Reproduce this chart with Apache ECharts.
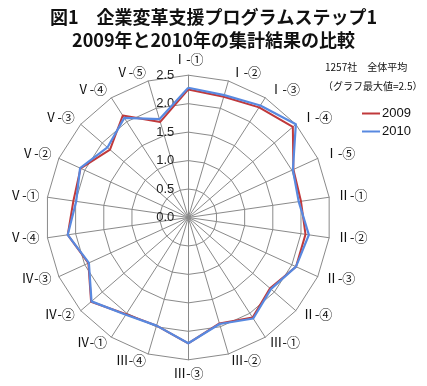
<!DOCTYPE html>
<html>
<head>
<meta charset="utf-8">
<script src="https://cdn.jsdelivr.net/npm/echarts@6/dist/echarts.min.js"></script>
<style>
html,body{margin:0;padding:0;background:#fff;}
#chart{width:427px;height:386px;}
</style>
</head>
<body>
<div id="chart"></div>
<script>
const titleLines = ['図1　企業変革支援プログラムステップ1', '2009年と2010年の集計結果の比較'];
const noteLines = ['1257社　全体平均', '（グラフ最大値=2.5）'];
const categories = ['Ⅰ-①','Ⅰ-②','Ⅰ-③','Ⅰ-④','Ⅰ-⑤','Ⅱ-①','Ⅱ-②','Ⅱ-③','Ⅱ-④','Ⅲ-①','Ⅲ-②','Ⅲ-③','Ⅲ-④','Ⅳ-①','Ⅳ-②','Ⅳ-③','Ⅴ-④','Ⅴ-①','Ⅴ-②','Ⅴ-③','Ⅴ-④','Ⅴ-⑤'];
const values2009 = [2.25,2.21,2.30,2.43,2.03,2.00,2.08,2.08,1.90,2.09,1.94,2.21,1.98,2.02,2.26,1.93,2.14,2.04,2.08,1.82,2.13,1.75];
const values2010 = [2.28,2.24,2.34,2.50,2.02,1.96,2.14,2.08,1.92,2.11,1.95,2.21,1.98,2.03,2.25,1.92,2.14,1.99,2.09,1.88,2.08,1.80];
const seriesNames = ['2009','2010'];
const tickMax = 2.5;
const tickStep = 0.5;

// ECharts lays radar indicators counter-clockwise; reorder so they run clockwise from the top
const order = [0].concat(categories.map((_, i) => i).slice(1).reverse());
const reorder = arr => order.map(i => arr[i]);

const cx = 188.3, cy = 217.5, R = 142.3;
const chart = echarts.init(document.getElementById('chart'));
const lineColor = '#8a8a8a';
chart.setOption({
  animation: false,
  backgroundColor: '#fff',
  title: [
    { text: titleLines[0] + '\n' + titleLines[1], left: 'center', top: 1,
      textStyle: { fontSize: 18, fontWeight: 'bold', lineHeight: 23, color: '#111', fontFamily: '"Noto Sans CJK JP", sans-serif' } },
    { text: noteLines[0], left: 320, top: 57,
      textStyle: { fontSize: 10, fontWeight: 'normal', color: '#111', fontFamily: '"Noto Sans CJK JP", sans-serif' } },
    { text: noteLines[1], left: 318, top: 76,
      textStyle: { fontSize: 10, fontWeight: 'normal', color: '#111', fontFamily: '"Noto Sans CJK JP", sans-serif' } }
  ],
  legend: {
    data: seriesNames, orient: 'vertical', left: 357, top: 102,
    icon: 'rect', itemWidth: 18, itemHeight: 2, itemGap: 5,
    textStyle: { fontSize: 13, color: '#111', fontFamily: 'Arial, "Liberation Sans", sans-serif', padding: [0,0,0,-3] }
  },
  radar: {
    center: [cx, cy], radius: R, startAngle: 90, shape: 'polygon', splitNumber: 5,
    indicator: reorder(categories).map(n => ({ name: n, min: 0, max: tickMax })),
    axisName: { color: '#111', fontSize: 13, fontFamily: '"Liberation Serif", "Noto Sans CJK JP", serif' },
    nameGap: 8,
    axisLine: { lineStyle: { color: lineColor, width: 1 } },
    splitLine: { lineStyle: { color: lineColor, width: 1 } },
    splitArea: { show: false },
    axisTick: { show: false },
    axisLabel: { show: false }
  },
  polar: { center: [cx, cy], radius: R },
  angleAxis: { type: 'value', startAngle: 90, min: 0, max: 360, show: false },
  radiusAxis: {
    type: 'value', min: 0, max: tickMax, interval: tickStep,
    axisLine: { show: false }, axisTick: { show: false }, splitLine: { show: false },
    axisLabel: { show: true, formatter: v => v.toFixed(1), fontSize: 13, color: '#222', margin: 14,
      fontFamily: '"Liberation Sans", Arial, sans-serif' }
  },
  series: [{
    type: 'radar', symbol: 'none', z: 3,
    data: [
      { name: seriesNames[0], value: reorder(values2009), lineStyle: { color: '#c0393b', width: 2 }, itemStyle: { color: '#c0393b' } },
      { name: seriesNames[1], value: reorder(values2010), lineStyle: { color: '#5889e0', width: 2.2 }, itemStyle: { color: '#5889e0' } }
    ]
  }]
});
</script>
</body>
</html>
